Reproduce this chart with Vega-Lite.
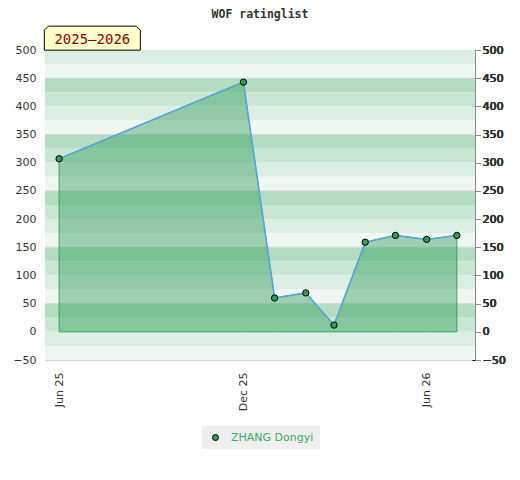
{
  "$schema": "https://vega.github.io/schema/vega-lite/v6.json",
  "width": 430,
  "height": 310,
  "autosize": "none",
  "padding": {"left": 45, "top": 50, "right": 45, "bottom": 120},
  "background": "white",
  "title": {"text": "WOF ratinglist", "font": "DejaVu Sans Mono", "fontSize": 11.5, "fontWeight": "bold", "color": "#333333", "anchor": "middle", "offset": 4},
  "config": {
    "view": {"stroke": "#d4d4d4"},
    "axis": {"grid": false, "labelFont": "DejaVu Sans", "labelFontSize": 11, "labelColor": "#333333", "title": null}
  },
  "datasets": {
    "bands": [
      {"hi": 500, "lo": 475, "shade": "c"}, {"hi": 475, "lo": 450, "shade": "d"},
      {"hi": 450, "lo": 425, "shade": "a"}, {"hi": 425, "lo": 400, "shade": "b"},
      {"hi": 400, "lo": 375, "shade": "c"}, {"hi": 375, "lo": 350, "shade": "d"},
      {"hi": 350, "lo": 325, "shade": "a"}, {"hi": 325, "lo": 300, "shade": "b"},
      {"hi": 300, "lo": 275, "shade": "c"}, {"hi": 275, "lo": 250, "shade": "d"},
      {"hi": 250, "lo": 225, "shade": "a"}, {"hi": 225, "lo": 200, "shade": "b"},
      {"hi": 200, "lo": 175, "shade": "c"}, {"hi": 175, "lo": 150, "shade": "d"},
      {"hi": 150, "lo": 125, "shade": "a"}, {"hi": 125, "lo": 100, "shade": "b"},
      {"hi": 100, "lo": 75, "shade": "c"}, {"hi": 75, "lo": 50, "shade": "d"},
      {"hi": 50, "lo": 25, "shade": "a"}, {"hi": 25, "lo": 0, "shade": "b"},
      {"hi": 0, "lo": -25, "shade": "c"}, {"hi": -25, "lo": -50, "shade": "d"}
    ],
    "seps": [{"v": 450}, {"v": 350}, {"v": 250}, {"v": 150}, {"v": 50}],
    "series": [
      {"date": "2025-06-01", "rating": 307, "player": "ZHANG Dongyi"},
      {"date": "2025-12-01", "rating": 443, "player": "ZHANG Dongyi"},
      {"date": "2026-01-01", "rating": 60, "player": "ZHANG Dongyi"},
      {"date": "2026-02-01", "rating": 69, "player": "ZHANG Dongyi"},
      {"date": "2026-03-01", "rating": 12, "player": "ZHANG Dongyi"},
      {"date": "2026-04-01", "rating": 159, "player": "ZHANG Dongyi"},
      {"date": "2026-05-01", "rating": 171, "player": "ZHANG Dongyi"},
      {"date": "2026-06-01", "rating": 164, "player": "ZHANG Dongyi"},
      {"date": "2026-07-01", "rating": 171, "player": "ZHANG Dongyi"}
    ],
    "season": [{"label": "2025–2026"}]
  },
  "layer": [
    {
      "data": {"name": "bands"},
      "mark": {"type": "rect"},
      "encoding": {
        "y": {"field": "hi", "type": "quantitative", "scale": {"domain": [-50, 500], "nice": false, "zero": false},
              "axis": {"orient": "left", "values": [-50, 0, 50, 100, 150, 200, 250, 300, 350, 400, 450, 500], "ticks": false, "domain": false, "labelPadding": 9}},
        "y2": {"field": "lo"},
        "color": {"field": "shade", "type": "nominal", "scale": {"domain": ["a", "b", "c", "d"], "range": ["#b3dcc3", "#c8e6d3", "#dcede3", "#eff7f2"]}, "legend": null}
      }
    },
    {
      "data": {"name": "seps"},
      "mark": {"type": "rule", "color": "#d8d8d8", "strokeWidth": 1},
      "encoding": {"y": {"field": "v", "type": "quantitative"}}
    },
    {
      "data": {"name": "series"},
      "mark": {"type": "area", "color": "#2b9c57", "fillOpacity": 0.42, "stroke": "#33a55c", "strokeWidth": 1, "strokeOpacity": 1},
      "encoding": {
        "x": {"field": "date", "type": "temporal",
              "scale": {"type": "utc", "domain": [{"year": 2025, "month": 5, "date": 18, "utc": true}, {"year": 2026, "month": 7, "date": 19, "utc": true}], "nice": false},
              "axis": {"values": [{"year": 2025, "month": 6, "date": 1, "utc": true}, {"year": 2025, "month": 12, "date": 1, "utc": true}, {"year": 2026, "month": 6, "date": 1, "utc": true}],
                       "format": "%b %y", "labelAngle": -90, "ticks": false, "domain": false, "labelPadding": 12}},
        "y": {"field": "rating", "type": "quantitative"},
        "y2": {"datum": 0}
      }
    },
    {
      "data": {"name": "series"},
      "mark": {"type": "line", "color": "#5ba3dd", "strokeWidth": 1.5},
      "encoding": {
        "x": {"field": "date", "type": "temporal"},
        "y": {"field": "rating", "type": "quantitative"}
      }
    },
    {
      "data": {"name": "series"},
      "mark": {"type": "point", "filled": true, "size": 40, "stroke": "black", "strokeWidth": 1, "opacity": 1},
      "encoding": {
        "x": {"field": "date", "type": "temporal"},
        "y": {"field": "rating", "type": "quantitative",
              "axis": {"orient": "right", "values": [-50, -40, -30, -20, -10, 0, 10, 20, 30, 40, 50, 60, 70, 80, 90, 100, 110, 120, 130, 140, 150, 160, 170, 180, 190, 200, 210, 220, 230, 240, 250, 260, 270, 280, 290, 300, 310, 320, 330, 340, 350, 360, 370, 380, 390, 400, 410, 420, 430, 440, 450, 460, 470, 480, 490, 500],
                       "labelExpr": "datum.value % 50 == 0 ? datum.label : ''", "labelOverlap": false, "ticks": true, "tickSize": -3, "tickColor": "black", "tickWidth": 1, "domain": false, "labelPadding": 10.5, "labelColor": "#111111"}},
        "fill": {"field": "player", "type": "nominal", "scale": {"range": ["#2e9e58"]},
                 "legend": {"orient": "none", "legendX": 157, "legendY": 376, "direction": "horizontal", "title": null, "fillColor": "#f0f0f0", "padding": 6,
                            "labelColor": "#3aaa5e", "labelFont": "DejaVu Sans", "labelFontSize": 11, "labelOffset": 10, "symbolOffset": 2,
                            "symbolType": "circle", "symbolSize": 36, "symbolStrokeColor": "black", "symbolStrokeWidth": 1}}
      }
    },
    {
      "data": {"name": "season"},
      "mark": {"type": "point", "shape": "M-1,0.25L-1,-0.167L-0.917,-0.25L0.917,-0.25L1,-0.167L1,0.25Z", "size": 9216, "filled": true, "fill": "#ffffcc", "stroke": "black", "strokeWidth": 1, "opacity": 1},
      "encoding": {
        "x": {"datum": {"year": 2025, "month": 7, "date": 4, "utc": true}, "type": "temporal"},
        "y": {"datum": 521, "type": "quantitative"}
      }
    },
    {
      "data": {"name": "season"},
      "mark": {"type": "text", "font": "DejaVu Sans Mono", "fontSize": 14, "color": "#8b0000", "align": "center", "baseline": "middle", "dy": 2},
      "encoding": {
        "x": {"datum": {"year": 2025, "month": 7, "date": 4, "utc": true}, "type": "temporal"},
        "y": {"datum": 521, "type": "quantitative"},
        "text": {"field": "label"}
      }
    }
  ]
}
